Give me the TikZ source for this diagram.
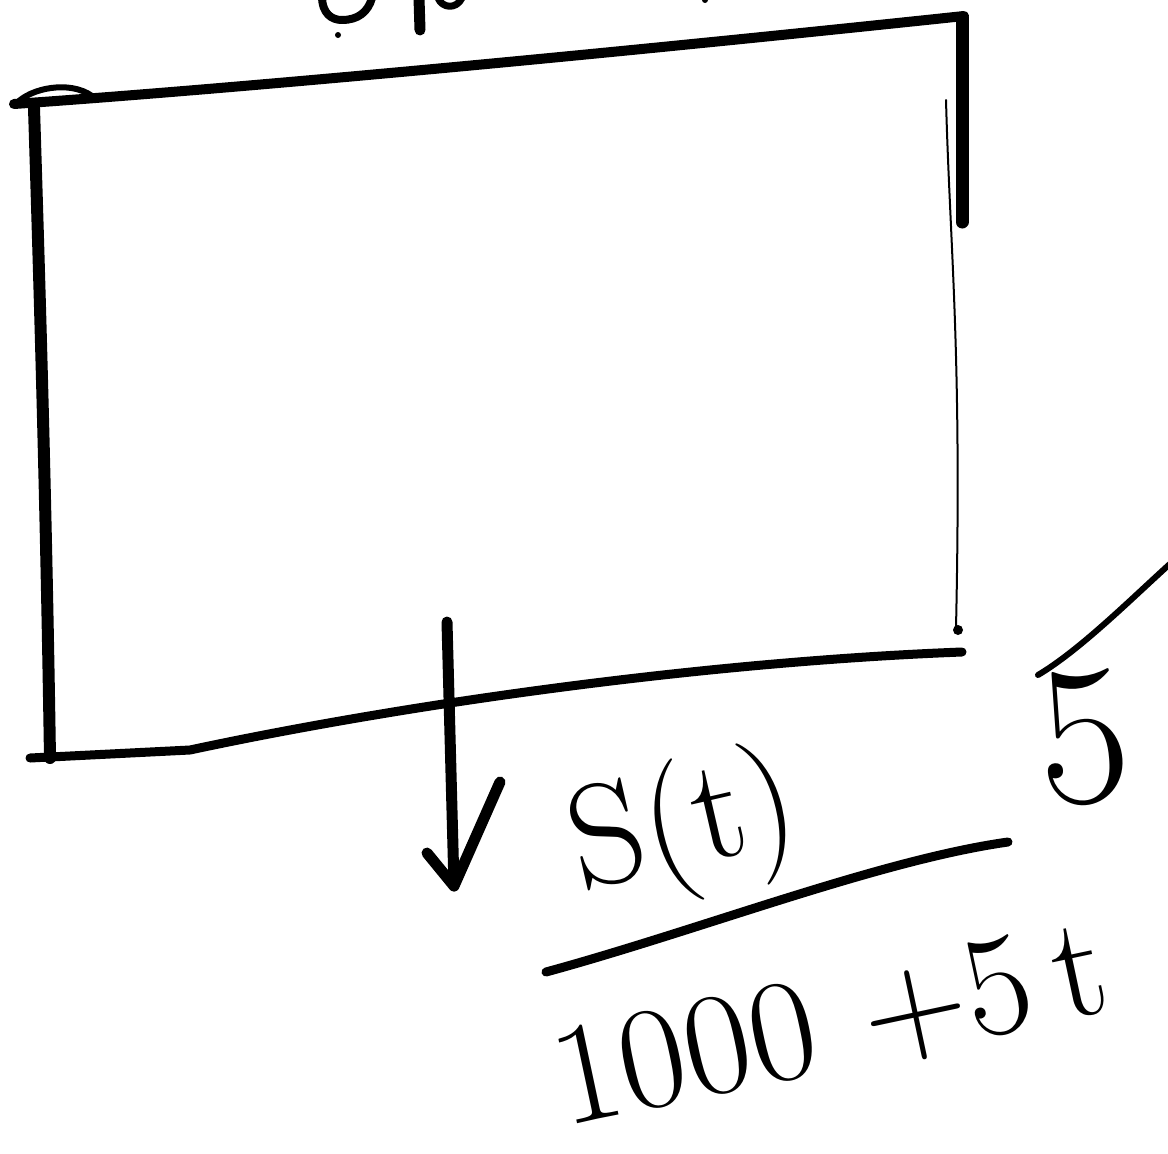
\documentclass[tikz,border=0pt]{standalone}
\begin{document}
\begin{tikzpicture}[x=1pt,y=-1pt,
  ink/.style={line width=#1, line cap=round, line join=round},
  ink/.default=9pt,
  hand/.style={inner sep=0pt, font=\fontsize{#1}{#1}\selectfont}]
\useasboundingbox (0,0) rectangle (1168,1154);
\fill[white] (0,0) rectangle (1168,1154);
\clip (0,0) rectangle (1168,1154);

% fragments of writing cut off at the top edge
\draw[ink=8pt] (322,-4) .. controls (322,14) and (332,20) .. (342,20)
  .. controls (358,20) and (368,12) .. (372,-2);
\fill (338,35) circle (3);
\draw[ink=11pt] (419,-2) -- (420,30);
\draw[ink=7pt] (438,-2) .. controls (442,8) and (456,10) .. (462,-2);
\fill (705,0) circle (3);

% box: top edge with its small starting loop
\draw[ink=10pt] (14,104) .. controls (300,84) and (700,44) .. (964,16);
\draw[ink=6pt] (16,104) .. controls (30,88) and (70,80) .. (92,96);
% left edge
\draw[ink=12pt] (34,108) .. controls (40,300) and (46,500) .. (50,758);
% bottom edge
\draw[ink=9pt] (30,758) -- (190,750) .. controls (400,705) and (700,662) .. (962,652);
% right edge: thick upper stroke and thin line below
\draw[ink=13pt] (962,18) -- (962,222);
\draw[ink=2pt] (946,100) .. controls (950,250) and (962,350) .. (956,628);
\fill (958,630) circle (5);

% downward arrow with open head
\coordinate (atop) at (447,622);
\coordinate (atip) at (454,886);
\draw[ink=11pt] (atop) -- (atip);
\draw[ink=11pt] (427,853) -- (atip) -- (500,782);

% numerator, fraction bar and denominator
\node[hand=145, rotate=13] (num) at (684,830) {S(t)};
\draw[ink=9pt] (546,972) .. controls (700,930) and (880,860) .. (1008,842);
\node[hand=145, rotate=12] (den) at (830,1026) {1000\,\,+5\,t};

% 5 at the right, under a stroke running off the edge
\node[hand=200, rotate=4] (five) at (1084,738) {5};
\draw[ink=6pt] (1038,675) .. controls (1080,650) and (1130,600) .. (1172,562);
\end{tikzpicture}
\end{document}
